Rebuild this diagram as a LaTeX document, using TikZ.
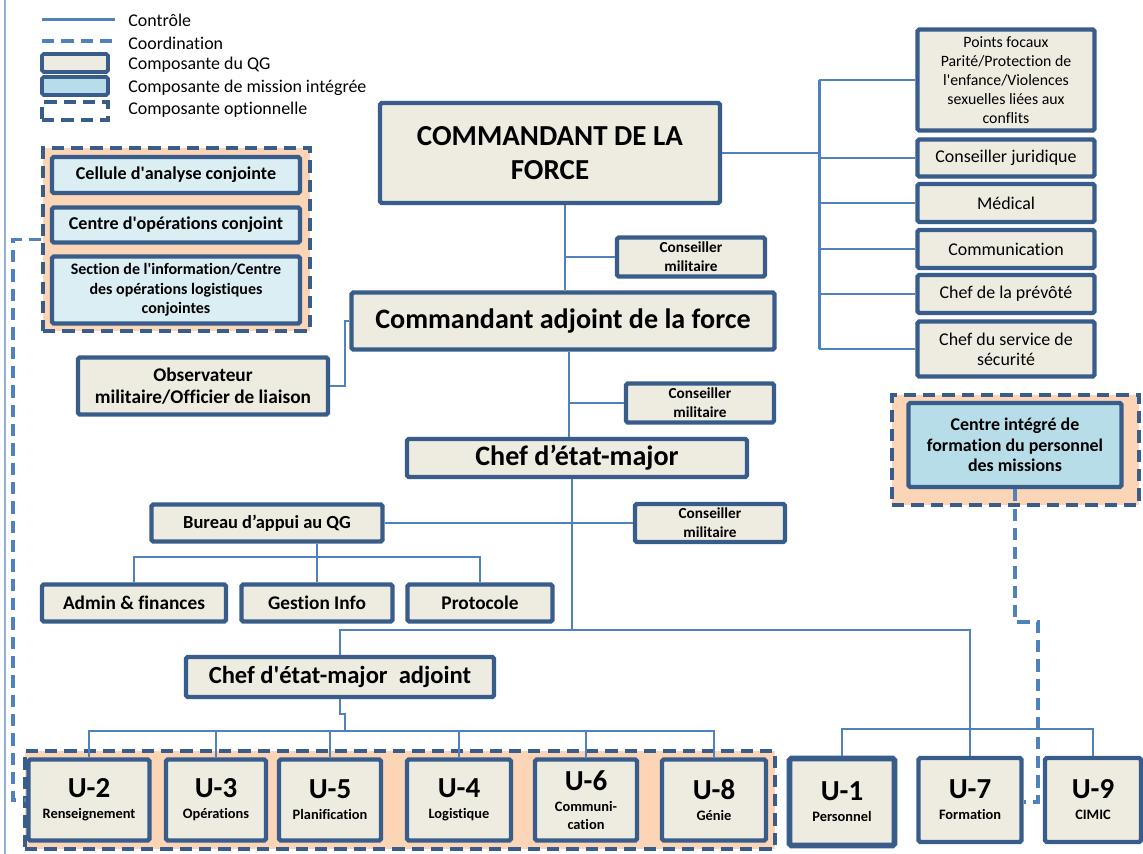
\documentclass[tikz,border=0pt]{standalone}
\usepackage{fontspec}
\setmainfont{Carlito}[Ligatures=NoCommon]
\usetikzlibrary{positioning, calc}
\definecolor{cBorder}{RGB}{56,93,138}
\definecolor{cLine}{RGB}{79,129,189}
\definecolor{cBeige}{RGB}{238,236,225}
\definecolor{cIce}{RGB}{219,238,244}
\definecolor{cMission}{RGB}{183,221,232}
\definecolor{cPeach}{RGB}{251,213,181}
\definecolor{cFrame}{RGB}{150,175,210}
\tikzset{
	qgbox/.style   ={rectangle, rounded corners=1pt, draw=cBorder, line width=2.5pt, fill=cBeige, align=center, inner sep=0pt},
	icebox/.style  ={qgbox, fill=cIce},
	missbox/.style ={qgbox, fill=cMission},
	optgrp/.style  ={rectangle, draw=cBorder, line width=2.2pt, dash pattern=on 7pt off 4pt, fill=cPeach, inner sep=0pt},
	ctrl/.style    ={draw=cLine, line width=1.7pt},
	ctrlthin/.style={draw=cLine, line width=1.1pt},
	coordline/.style={draw=cLine, line width=2.2pt, dash pattern=on 7pt off 4pt},
	% unit boxes at the bottom
	unitbox/.style ={qgbox, minimum height=1.62cm, font=\fontsize{8.2}{10}\selectfont\bfseries},
}
\newcommand{\ulabel}[2]{{\fontsize{16.5}{18}\selectfont #1}\\[2pt]#2}
\newcommand{\ap}{\textquotesingle}

\begin{document}
\begin{tikzpicture}[x=0.02cm, y=-0.02cm,
	headA/.style={font=\fontsize{16.5}{19}\selectfont\bfseries},
	headB/.style={font=\fontsize{16}{19}\selectfont\bfseries},
	advbox/.style={qgbox, minimum width=2.96cm, minimum height=0.78cm, font=\fontsize{8.7}{10.8}\selectfont\bfseries},
	sidebox/.style={qgbox, minimum width=3.54cm, minimum height=0.76cm, font=\fontsize{10.2}{11.4}\selectfont},
	legtxt/.style={anchor=west, inner sep=0pt, font=\fontsize{10.2}{12}\selectfont}]
	\useasboundingbox (0,0) rectangle (1143,854);
	\fill[white] (0,0) rectangle (1143,854);
	\draw[cFrame, line width=0.6pt] (5,0) -- (5,854);

	% legend
	\coordinate (lc1) at (42,20);  \coordinate (lc2) at (115,20);
	\coordinate (lc3) at (42,41);  \coordinate (lc4) at (115,41);
	\draw[ctrl] (lc1) -- (lc2);
	\draw[coordline] (lc3) -- (lc4);
	\node[qgbox, line width=2.2pt, minimum width=1.32cm, minimum height=0.36cm] (lgq) at (75,63) {};
	\node[missbox, line width=2.2pt, minimum width=1.32cm, minimum height=0.36cm] (lgm) at (75,86) {};
	\node[qgbox, fill=white, line width=2.2pt, dash pattern=on 7pt off 4pt, rounded corners=0pt, minimum width=1.32cm, minimum height=0.36cm] (lgo) at (75,111) {};
	\node[legtxt] (lt1) at (128,20) {Contrôle};
	\node[legtxt] (lt2) at (128,43) {Coordination};
	\node[legtxt] (lt3) at (128,65) {Composante du QG};
	\node[legtxt] (lt4) at (128,88) {Composante de mission intégrée};
	\node[legtxt] (lt5) at (128,110) {Composante optionnelle};

	% optional groups
	\node[optgrp, minimum width=5.34cm, minimum height=3.66cm] (grpL) at (176.5,239.5) {};
	\node[optgrp, minimum width=4.94cm, minimum height=2.2cm] (grpR) at (1015.5,450) {};
	\node[optgrp, minimum width=15cm, minimum height=1.96cm] (grpU) at (400,800) {};

	\node[icebox, minimum width=4.96cm, minimum height=0.72cm, font=\fontsize{10.3}{12}\selectfont\bfseries] (cac) at (176,175) {Cellule d\ap analyse conjointe};
	\node[icebox, minimum width=4.96cm, minimum height=0.7cm, font=\fontsize{10.3}{12}\selectfont\bfseries] (coc) at (176,225) {Centre d\ap opérations conjoint};
	\node[icebox, minimum width=4.96cm, minimum height=1.34cm, font=\fontsize{9.1}{11}\selectfont\bfseries] (sil) at (176,290) {Section de l\ap information/Centre\\des opérations logistiques\\conjointes};
	\node[missbox, minimum width=4.26cm, minimum height=1.68cm, font=\fontsize{10.2}{11.6}\selectfont\bfseries] (cif) at (1015,445) {Centre intégré de\\formation du personnel\\des missions};

	% command chain
	\node[qgbox, headA, minimum width=6.8cm, minimum height=2cm] (cmd) at (550,153) {COMMANDANT DE LA\\FORCE};
	\node[advbox] (cm1) at (691,257) {Conseiller\\militaire};
	\node[qgbox, headB, minimum width=8.46cm, minimum height=1.14cm] (adj) at (563,321) {Commandant adjoint de la force};
	\node[qgbox, minimum width=5cm, minimum height=1.14cm, font=\fontsize{11}{12.5}\selectfont\bfseries] (obs) at (203,386) {Observateur\\militaire/Officier de liaison};
	\node[advbox] (cm2) at (700,403) {Conseiller\\militaire};
	\node[qgbox, headB, minimum width=6.8cm, minimum height=0.76cm] (cem) at (577,458) {Chef d’état-major};
	\node[qgbox, minimum width=4.62cm, minimum height=0.74cm, font=\fontsize{10.5}{12}\selectfont\bfseries] (bqg) at (267,523) {Bureau d’appui au QG};
	\node[advbox, minimum width=3cm, minimum height=0.76cm] (cm3) at (710,523) {Conseiller\\militaire};
	\node[qgbox, minimum width=3.68cm, minimum height=0.74cm, font=\fontsize{11}{12}\selectfont\bfseries] (adm) at (134,603) {Admin \& finances};
	\node[qgbox, minimum width=3.02cm, minimum height=0.74cm, font=\fontsize{11}{12}\selectfont\bfseries] (ginfo) at (317,603) {Gestion Info};
	\node[qgbox, minimum width=2.9cm, minimum height=0.74cm, font=\fontsize{11}{12}\selectfont\bfseries] (proto) at (480,603) {Protocole};
	\node[qgbox, minimum width=6.16cm, minimum height=0.8cm, font=\fontsize{14}{16}\selectfont\bfseries] (cema) at (340,677) {Chef d\ap état-major\ \ adjoint};

	% special staff
	\node[sidebox, minimum height=2.02cm, font=\fontsize{9}{10.8}\selectfont] (foc) at (1006,80) {Points focaux\\Parité/Protection de\\l\ap enfance/Violences\\sexuelles liées aux\\conflits};
	\node[sidebox, minimum height=0.74cm] (jur) at (1006,158) {Conseiller juridique};
	\node[sidebox] (med) at (1006,203) {Médical};
	\node[sidebox] (comm) at (1006,249) {Communication};
	\node[sidebox] (prev) at (1006,294) {Chef de la prévôté};
	\node[sidebox, minimum height=1.1cm] (secu) at (1006,349) {Chef du service de\\sécurité};

	% units
	\node[unitbox, minimum width=2.42cm] (u2) at (89,800) {\ulabel{U-2}{Renseignement}};
	\node[unitbox, minimum width=2cm] (u3) at (216,800) {\ulabel{U-3}{Opérations}};
	\node[unitbox, minimum width=2.04cm] (u5) at (330,800) {\ulabel{U-5}{Planification}};
	\node[unitbox, minimum width=2.08cm] (u4) at (459,800) {\ulabel{U-4}{Logistique}};
	\node[unitbox, minimum width=2.04cm] (u6) at (586,800) {\ulabel{U-6}{Communi-\\cation}};
	\node[unitbox, minimum width=2.08cm] (u8) at (714,800) {\ulabel{U-8}{Génie}};
	\node[unitbox, line width=3.2pt, minimum width=2.1cm, minimum height=1.74cm] (u1) at (842,802) {\ulabel{U-1}{Personnel}};
	\node[unitbox, minimum width=2.06cm, minimum height=1.68cm] (u7) at (970,800) {\ulabel{U-7}{Formation}};
	\node[unitbox, minimum width=1.92cm, minimum height=1.68cm] (u9) at (1093,800) {\ulabel{U-9}{CIMIC}};

	% control lines
	\draw[ctrl] (565,0 |- cmd.south) -- (565,0 |- adj.north);
	\draw[ctrl] (565,0 |- cm1.west) -- (cm1.west);
	\draw[ctrl] (cmd.east) -- (819,0 |- cmd.east);
	\draw[ctrl] (819,0 |- foc.west) -- (819,0 |- secu.west);
	\foreach \b in {foc,jur,med,comm,prev,secu}
		\draw[ctrl] (819,0 |- \b.west) -- (\b.west);
	\draw[ctrl] (obs.east) -- (345,0 |- obs.east) |- (adj.west);
	\draw[ctrl] (569,0 |- adj.south) -- (569,0 |- cem.north);
	\draw[ctrl] (569,0 |- cm2.west) -- (cm2.west);
	\coordinate (hub) at (572,630);
	\draw[ctrl] (572,0 |- cem.south) -- (hub);
	\draw[ctrl] (bqg.east) -- (cm3.west);
	\draw[ctrl] (ginfo.north) -- (ginfo.north |- bqg.south);
	\draw[ctrl] (adm.north) |- (ginfo.north |- 0,557) -| (proto.north);
	\draw[ctrlthin] (cema.north) |- (hub) -| (u7.north);
	\coordinate (jog) at (345,714);
	\draw[ctrlthin] (cema.south) |- (jog) -- (jog |- 0,731);
	\draw[ctrlthin] (u2.north) |- (u8.north |- 0,731) -- (u8.north);
	\foreach \u in {u3,u5,u4,u6}
		\draw[ctrlthin] (\u.north) -- (\u.north |- 0,731);
	\draw[ctrlthin] (u1.north) |- (u9.north |- 0,729) -- (u9.north);

	% coordination lines
	\draw[coordline] (grpL.west) -| (13,800) -- (u2.west);
	\draw[coordline] (cif.south) |- (1038,622) |- (u7.east |- 0,802);
\end{tikzpicture}
\end{document}
